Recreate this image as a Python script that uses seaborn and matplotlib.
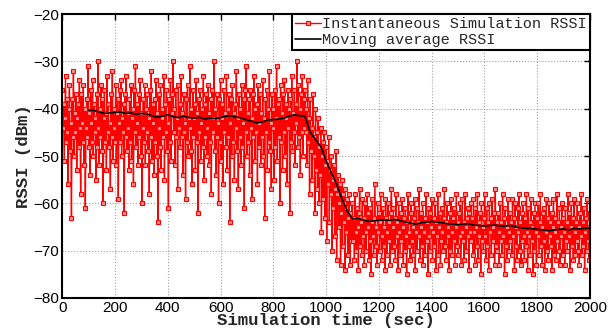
import numpy as np
import pandas as pd
import matplotlib
matplotlib.use("Agg")
import matplotlib.pyplot as plt
import seaborn as sns

# instantaneous RSSI (dBm): before the drop, the drop, after
rssi_before = [
    -36, -44, -39, -51, -42, -33, -47, -38, -45, -56, -40, -35, -49, -43, -63, -38, -46, -32, -50, -41,
    -45, -37, -53, -42, -39, -48, -34, -44, -58, -37, -43, -47, -35, -52, -40, -61, -44, -38, -46, -31,
    -48, -41, -54, -36, -43, -47, -34, -50, -39, -45, -42, -55, -37, -48, -30, -44, -52, -40, -46, -35,
    -49, -38, -60, -42, -36, -47, -41, -53, -33, -45, -39, -48, -43, -57, -37, -46, -32, -51, -40, -44,
    -47, -35, -52, -41, -38, -59, -43, -36, -47, -34, -50, -42, -45, -39, -62, -37, -46, -33, -49, -41,
    -44, -53, -38, -47, -35, -51, -42, -40, -56, -36, -45, -31, -48, -43, -39, -52, -37, -46, -34, -50,
    -41, -60, -44, -38, -47, -35, -52, -40, -45, -37, -49, -42, -58, -36, -46, -32, -51, -43, -39, -54,
    -38, -47, -34, -50, -41, -64, -44, -37, -48, -35, -53, -42, -40, -46, -33, -55, -39, -45, -36, -49,
    -43, -61, -38, -47, -34, -51, -41, -37, -30, -45, -40, -52, -36, -46, -42, -57, -35, -44, -39, -48,
    -33, -46, -41, -54, -37, -45, -43, -59, -38, -47, -35, -50, -42, -44, -31, -49, -40, -56, -36, -46,
    -42, -39, -53, -34, -47, -41, -62, -38, -45, -36, -51, -43, -40, -48, -33, -55, -39, -46, -37, -50,
    -44, -35, -52, -41, -47, -38, -58, -36, -45, -42, -30, -49, -40, -54, -37, -46, -43, -60, -38, -47,
    -34, -51, -42, -39, -56, -36, -45, -41, -48, -33, -53, -40, -46, -37, -64, -43, -38, -50, -35, -47,
    -41, -55, -39, -44, -32, -49, -42, -57, -37, -46, -40, -52, -35, -48, -43, -38, -61, -36, -45, -31,
    -50, -41, -47, -38, -54, -36, -44, -42, -59, -37, -46, -33, -51, -40, -45, -39, -56, -35, -48, -43,
    -37, -52, -41, -46, -34, -50, -42, -63, -38, -45, -36, -53, -40, -47, -32, -49, -43, -57, -37, -44,
    -40, -55, -36, -48, -42, -31, -51, -39, -46, -38, -60, -35, -47, -41, -53, -37, -45, -34, -50, -42,
    -39, -56, -36, -44, -40, -62, -38, -47, -33, -49, -41, -45, -36, -52, -39, -43, -30, -48, -35, -46,
    -40, -54, -37, -45, -33, -50, -38, -44,
]
rssi_drop = [
    -36, -45, -40, -52, -34, -47, -42, -58, -38, -49, -44, -55, -37, -50, -46, -62, -40, -53, -45, -57,
    -42, -60, -48, -54, -44, -66, -50, -47, -59, -45, -63, -52, -48, -68, -51, -56, -46, -64, -53, -58,
    -50, -70, -55, -61, -52, -67, -57, -49, -72, -58, -54, -65, -60, -56, -73, -62, -55, -69, -58, -64,
    -57, -74, -61, -66, -59, -71, -63, -58, -73, -62, -68, -60,
]
rssi_after = [
    -60, -68, -63, -72, -58, -66, -70, -61, -65, -74, -62, -57, -69, -64, -71, -59, -67, -63, -73, -60,
    -66, -70, -58, -65, -62, -72, -68, -61, -75, -64, -59, -67, -71, -63, -56, -69, -65, -73, -60, -66,
    -62, -70, -64, -58, -72, -67, -61, -69, -65, -74, -59, -63, -71, -66, -60, -68, -64, -73, -62, -57,
    -70, -65, -61, -69, -63, -72, -58, -67, -64, -74, -60, -66, -71, -62, -68, -59, -65, -73, -63, -70,
    -61, -67, -75, -64, -58, -69, -66, -72, -62, -60, -68, -65, -71, -63, -59, -74, -66, -61, -70, -64,
    -67, -57, -72, -65, -62, -69, -60, -73, -66, -63, -71, -58, -68, -64, -75, -61, -67, -70, -62, -65,
    -59, -72, -66, -63, -69, -60, -74, -64, -67, -58, -71, -65, -62, -73, -68, -61, -66, -70, -63, -57,
    -69, -64, -72, -60, -67, -65, -74, -62, -70, -59, -66, -71, -63, -68, -61, -73, -65, -58, -69, -64,
    -71, -62, -67, -60, -73, -66, -59, -68, -64, -72, -58, -65, -70, -63, -67, -61, -74, -62, -66, -60,
    -68, -63, -71, -59, -66, -73, -61, -65, -69, -58, -72, -64, -67, -62, -75, -60, -68, -65, -70, -63,
    -58, -67, -72, -61, -69, -64, -74, -60, -66, -63, -71, -59, -68, -65, -62, -73, -57, -69, -64, -70,
    -62, -66, -73, -60, -68, -64, -71, -58, -67, -63, -75, -61, -69, -65, -72, -59, -66, -70, -62, -68,
    -64, -71, -59, -67, -63, -74, -60, -69, -65, -72, -61, -66, -58, -70, -64, -73, -62, -68, -60, -67,
    -72, -63, -69, -58, -66, -74, -61, -67, -64, -71, -59, -68, -65, -75, -62, -70, -60, -66, -73, -63,
    -67, -60, -71, -64, -58, -69, -65, -73, -62, -68, -61, -74, -66, -59, -70, -63, -72, -60, -67, -64,
    -69, -62, -74, -65, -59, -71, -66, -63, -72, -58, -68, -64, -70, -61, -73, -65, -67, -60, -71, -63,
    -66, -73, -61, -68, -64, -70, -58, -67, -62, -74, -65, -60, -69, -63, -72, -59, -66, -71, -64, -68,
    -60, -70, -65, -73, -62, -67, -58, -71, -64, -69, -61, -74, -66, -63, -70, -59, -68, -65, -72, -62,
    -67, -60, -71, -64,
]
rssi = rssi_before + rssi_drop + rssi_after
sample_time = np.concatenate([
    np.linspace(0, 917.5, len(rssi_before)),
    np.linspace(920, 1097.5, len(rssi_drop)),
    np.linspace(1100, 2010, len(rssi_after)),
])

# moving average RSSI, every 20 s from 100 s
ma_time = np.arange(100, 2001, 20)
ma_rssi = [
    -40.3, -40.4, -40.7, -41.0, -40.9, -40.8, -40.7, -41.0, -40.9, -41.2,
    -41.0, -41.1, -41.5, -41.8, -41.6, -41.3, -41.7, -41.9, -41.6, -41.9,
    -42.0, -41.8, -42.2, -42.0, -42.1, -41.9, -41.6, -41.5, -41.8, -42.0,
    -42.4, -42.7, -43.0, -42.8, -42.4, -42.3, -42.2, -42.0, -41.6, -41.3,
    -41.5, -41.6,
    -45.0, -46.5, -48.0, -51.0, -53.5, -56.0, -59.0, -61.5,
    -63.3, -63.2, -63.5, -63.8, -63.7, -63.6, -63.5, -63.6, -63.4, -63.7,
    -63.9, -64.2, -64.4, -64.1, -64.0, -63.8, -64.0, -64.1, -64.3, -64.4,
    -64.5, -64.4, -64.3, -64.6, -64.7, -64.8, -64.7, -64.6, -64.8, -64.8,
    -64.7, -65.0, -65.2, -65.3, -65.3, -65.5, -65.6, -65.8, -65.7, -65.5,
    -65.4, -65.6, -65.3, -65.4, -65.3, -65.2,
]

inst = pd.DataFrame({"t": sample_time, "rssi": rssi})
avg = pd.DataFrame({"t": ma_time, "rssi": ma_rssi})

sns.set_theme(style="white")
plt.rcParams["font.family"] = ["Liberation Sans", "DejaVu Sans"]

fig = plt.figure(figsize=(6.1, 3.31), dpi=100)
ax = fig.add_axes([0.102, 0.0997, 0.865, 0.858])

sns.lineplot(data=inst, x="t", y="rssi", ax=ax, color="red", lw=1, estimator=None,
             marker="s", markersize=3.2, markerfacecolor="#ff9090", markeredgecolor="red",
             markeredgewidth=0.8, label="Instantaneous Simulation RSSI")
sns.lineplot(data=avg, x="t", y="rssi", ax=ax, color="black", lw=1.2, estimator=None,
             label="Moving average RSSI")

ax.set_xlim(0, 2000)
ax.set_ylim(-80, -20)
ax.set_xticks(np.arange(0, 2001, 200))
ax.set_yticks(np.arange(-80, -19, 10))
ax.grid(True, linestyle=":", color="#a0a0a0", lw=0.8)
ax.tick_params(direction="in", length=4, width=1, top=True, right=True,
               labelsize=11, pad=2, colors="black")
for s in ax.spines.values():
    s.set_color("black")
    s.set_linewidth(1.5)

mono = {"family": "Liberation Mono", "weight": "bold", "size": 12.5}
ax.set_xlabel("Simulation time (sec)", fontdict=mono, labelpad=-1)
ax.set_ylabel("RSSI (dBm)", fontdict=mono, labelpad=2)

leg = ax.legend(loc="upper right", prop={"family": "Liberation Mono", "size": 11},
                frameon=True, fancybox=False, edgecolor="black", framealpha=1,
                borderaxespad=0, borderpad=0.2, handlelength=1.7, handletextpad=0.1,
                labelspacing=0.15)
leg.get_frame().set_linewidth(1.5)

fig.savefig("out.png", dpi=100)
